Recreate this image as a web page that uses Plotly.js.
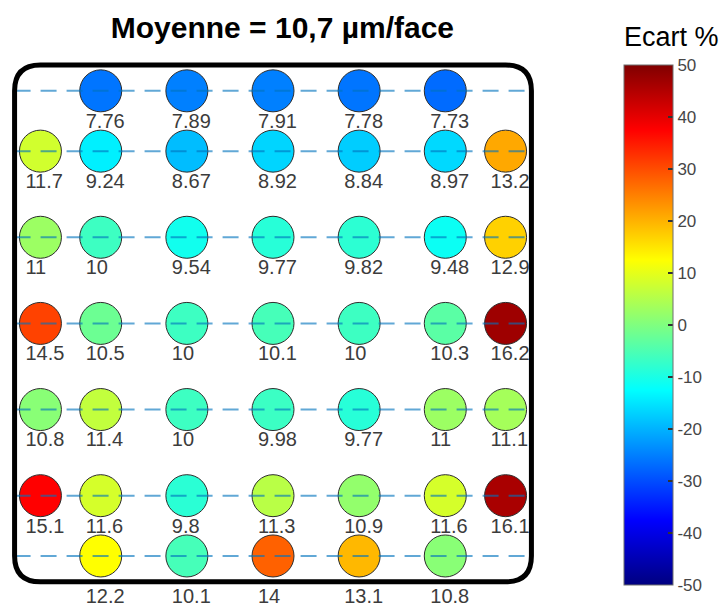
<!DOCTYPE html>
<html><head><meta charset="utf-8">
<script src="https://cdn.plot.ly/plotly-3.0.1.min.js"></script>
<style>html,body{margin:0;padding:0;background:#fff;}#chart{width:724px;height:608px;}</style>
</head><body><div id="chart"></div>
<script>
// Grid positions (columns left->right, rows top->bottom)
const colPos = [-2.7, -2, -1, 0, 1, 2, 2.7];
const rowPos = [2.7, 2, 1, 0, -1, -2, -2.7];

// Measured thickness (µm/face) per row; null = no point
const row1 = [null, 7.76, 7.89, 7.91, 7.78, 7.73, null];
const row2 = [11.7, 9.24, 8.67, 8.92, 8.84, 8.97, 13.2];
const row3 = [11, 10, 9.54, 9.77, 9.82, 9.48, 12.9];
const row4 = [14.5, 10.5, 10, 10.1, 10, 10.3, 16.2];
const row5 = [10.8, 11.4, 10, 9.98, 9.77, 11, 11.1];
const row6 = [15.1, 11.6, 9.8, 11.3, 10.9, 11.6, 16.1];
const row7 = [null, 12.2, 10.1, 14, 13.1, 10.8, null];

// Ecart % per point
const ecart1 = [null, -26, -25, -25, -26, -27, null];
const ecart2 = [8, -14, -19, -16.6, -17.4, -16.2, 21];
const ecart3 = [2.8, -6.5, -10.8, -8.7, -8.2, -11.4, 17];
const ecart4 = [31, -1.9, -6.5, -5.6, -6.5, -3.7, 47];
const ecart5 = [0.9, 6.5, -6.5, -6.7, -8.7, 2.8, 3.7];
const ecart6 = [37.5, 8.4, -8.4, 5.6, 1.9, 8.4, 46];
const ecart7 = [null, 12.5, -5.6, 28, 19.5, 0.9, null];

const titleText = 'Moyenne = 10,7 µm/face';
const cbarTitle = 'Ecart %';
const cbarTicks = [-50, -40, -30, -20, -10, 0, 10, 20, 30, 40, 50];

const rows = [row1, row2, row3, row4, row5, row6, row7];
const ecarts = [ecart1, ecart2, ecart3, ecart4, ecart5, ecart6, ecart7];

const jet = [[0, 'rgb(0,0,128)'], [0.125, 'rgb(0,0,255)'], [0.375, 'rgb(0,255,255)'],
             [0.625, 'rgb(255,255,0)'], [0.875, 'rgb(255,0,0)'], [1, 'rgb(128,0,0)']];

const px = [], py = [], pc = [], tx = [], ty = [], tt = [];
const dx = 0.174, dy = 0.37, dyLast = 0.49;
rows.forEach((r, i) => {
  r.forEach((v, j) => {
    if (v === null) return;
    px.push(colPos[j]); py.push(rowPos[i]); pc.push(ecarts[i][j]);
    tx.push(colPos[j] - dx);
    ty.push(rowPos[i] - (i === rows.length - 1 ? dyLast : dy));
    tt.push(String(v));
  });
});

const markers = {
  type: 'scatter', mode: 'markers', x: px, y: py, hoverinfo: 'skip',
  marker: {
    size: 42, color: pc, colorscale: jet, cmin: -50, cmax: 50,
    line: {color: 'rgb(45,45,45)', width: 1},
    showscale: true,
    colorbar: {
      thickness: 49, thicknessmode: 'pixels', len: 520, lenmode: 'pixels',
      x: 1.1724, xanchor: 'left', y: 0.5164, yanchor: 'middle', xpad: 0, ypad: 0,
      outlinewidth: 1, outlinecolor: 'rgb(110,110,110)',
      tickmode: 'array', tickvals: cbarTicks, ticktext: cbarTicks.map(String),
      ticks: 'inside', ticklen: 5, tickwidth: 1.5, tickcolor: 'rgb(50,50,50)',
      tickfont: {family: 'Liberation Sans, Arial, sans-serif', size: 17, color: 'rgb(70,70,70)'}
    }
  }
};
const labels = {
  type: 'scatter', mode: 'text', x: tx, y: ty, text: tt, textposition: 'middle right',
  cliponaxis: true, hoverinfo: 'skip',
  textfont: {family: 'Liberation Sans, Arial, sans-serif', size: 20, color: 'rgb(60,60,60)'}
};

const shapes = rowPos.map(y => ({
  type: 'line', xref: 'x', yref: 'y', x0: -3, x1: 3, y0: y, y1: y, layer: 'above',
  line: {color: 'rgba(0,114,189,0.62)', width: 2, dash: '16px,10px'}
}));
const r = 0.3;
shapes.push({
  type: 'path', xref: 'x', yref: 'y', layer: 'above',
  path: `M ${-3 + r},3 L ${3 - r},3 Q 3,3 3,${3 - r} L 3,${-3 + r} Q 3,-3 ${3 - r},-3 L ${-3 + r},-3 Q -3,-3 -3,${-3 + r} L -3,${3 - r} Q -3,3 ${-3 + r},3 Z`,
  line: {color: 'black', width: 5}
});

const layout = {
  width: 724, height: 608,
  margin: {l: 12, r: 190, t: 60, b: 0, pad: 0},
  paper_bgcolor: 'white', plot_bgcolor: 'white', showlegend: false,
  xaxis: {range: [-3.03, 3.03], visible: false, fixedrange: true},
  yaxis: {range: [-3.304, 3.058], visible: false, fixedrange: true},
  title: {
    text: titleText, x: 0.518, xref: 'paper', xanchor: 'center',
    y: 1 - 27 / 608, yref: 'container', yanchor: 'middle',
    font: {family: 'Liberation Sans, Arial, sans-serif', size: 30, weight: 700, color: 'black'}
  },
  shapes: shapes,
  annotations: [{
    text: cbarTitle, xref: 'paper', yref: 'paper', x: 1.1686, y: 1.042,
    xanchor: 'left', yanchor: 'middle', showarrow: false,
    font: {family: 'Liberation Sans, Arial, sans-serif', size: 27, color: 'black'}
  }]
};

Plotly.newPlot('chart', [markers, labels], layout, {displayModeBar: false, staticPlot: true});
</script></body></html>
